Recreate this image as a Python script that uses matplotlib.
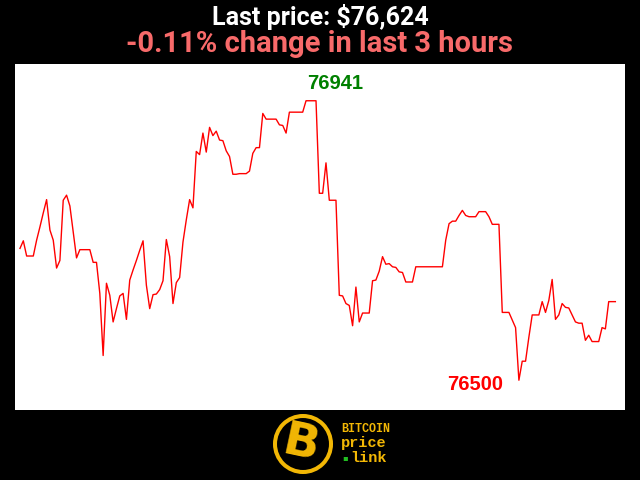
import matplotlib
matplotlib.use("Agg")
import matplotlib.pyplot as plt
from matplotlib.patches import Circle

# BTC price, one value per minute over the last 3 hours
prices = [
    76708, 76720, 76696, 76696, 76696, 76721, 76742, 76764, 76785, 76737,
    76721, 76677, 76689, 76784, 76792, 76775, 76734, 76693, 76706, 76706,
    76706, 76706, 76686, 76686, 76637, 76539, 76653, 76634, 76592, 76613,
    76633, 76637, 76596, 76658, 76674, 76689, 76705, 76720, 76650, 76613,
    76635, 76636, 76643, 76657, 76722, 76695, 76621, 76654, 76662, 76718,
    76753, 76785, 76772, 76861, 76856, 76890, 76860, 76899, 76886, 76893,
    76879, 76878, 76862, 76853, 76825, 76825, 76826, 76826, 76826, 76830,
    76858, 76867, 76867, 76921, 76912, 76912, 76912, 76912, 76903, 76902,
    76890, 76923, 76923, 76923, 76923, 76923, 76941, 76941, 76941, 76941,
    76795, 76795, 76843, 76784, 76784, 76784, 76634, 76633, 76621, 76618,
    76586, 76647, 76592, 76606, 76606, 76606, 76657, 76658, 76672, 76695,
    76683, 76684, 76679, 76678, 76671, 76670, 76655, 76655, 76655, 76679,
    76679, 76679, 76679, 76679, 76679, 76679, 76679, 76679, 76721, 76747,
    76751, 76751, 76760, 76768, 76760, 76758, 76758, 76758, 76766, 76766,
    76766, 76758, 76746, 76746, 76746, 76607, 76607, 76607, 76595, 76583,
    76500, 76530, 76530, 76568, 76603, 76603, 76603, 76624, 76607, 76626,
    76659, 76596, 76603, 76621, 76615, 76614, 76603, 76592, 76590, 76590,
    76563, 76571, 76561, 76561, 76561, 76583, 76581, 76624, 76624, 76624,
]
last_price = 76624
pct_change = -0.11

fig = plt.figure(figsize=(6.4, 4.8), dpi=100, facecolor="black")

fig.text(0.5, 1 - 25 / 480, f"Last price: ${last_price:,}", color="white",
         fontsize=18, fontweight="bold", family="Roboto", ha="center", va="baseline")
fig.text(0.5, 1 - 52 / 480, f"{pct_change:.2f}% change in last 3 hours", color="#f86a6a",
         fontsize=21, fontweight="bold", family="Roboto", ha="center", va="baseline")

ax = fig.add_axes([15 / 640, 70 / 480, 610 / 640, 346 / 480])
ax.set_facecolor("white")
x = list(range(len(prices)))
ax.plot(x, prices, color="red", lw=1)
ax.set_xlim(-1.5, 181.9)
ax.set_ylim(76453, 76999)
ax.set_xticks([])
ax.set_yticks([])
for s in ax.spines.values():
    s.set_visible(False)

hi = max(prices)
lo = min(prices)
ax.annotate(str(hi), xy=(prices.index(hi), hi), xytext=(29, 17), textcoords="offset pixels",
            ha="center", va="center", color="green", fontsize=14.5, fontweight="bold",
            family="Liberation Sans")
ax.annotate(str(lo), xy=(prices.index(lo), lo), xytext=(-44, -4), textcoords="offset pixels",
            ha="center", va="center", color="red", fontsize=14.5, fontweight="bold",
            family="Liberation Sans")

# logo
gold = "#f2b705"
fig.patches.append(Circle((3.03, 0.36), 0.28, transform=fig.dpi_scale_trans,
                          facecolor="black", edgecolor=gold, lw=2.9))
fig.text(3.01 / 6.4, 0.355 / 4.8, "B", color=gold, fontsize=34, fontweight="bold",
         ha="center", va="center", rotation=-12)
fig.text(341 / 640, 1 - 429.5 / 480, "BITCOIN", color=gold, fontsize=8.5, fontweight="bold",
         family="Liberation Mono", ha="left", va="center")
fig.text(341 / 640, 1 - 443 / 480, "price", color=gold, fontsize=11, fontweight="bold",
         family="Liberation Mono", ha="left", va="center")
fig.text(350 / 640, 1 - 458 / 480, "link", color=gold, fontsize=11, fontweight="bold",
         family="Liberation Mono", ha="left", va="center")
fig.text(345 / 640, 1 - 457.5 / 480, "\u25aa", color="#22c022", fontsize=6,
         ha="center", va="center")

fig.savefig("out.png", dpi=100, facecolor="black")
